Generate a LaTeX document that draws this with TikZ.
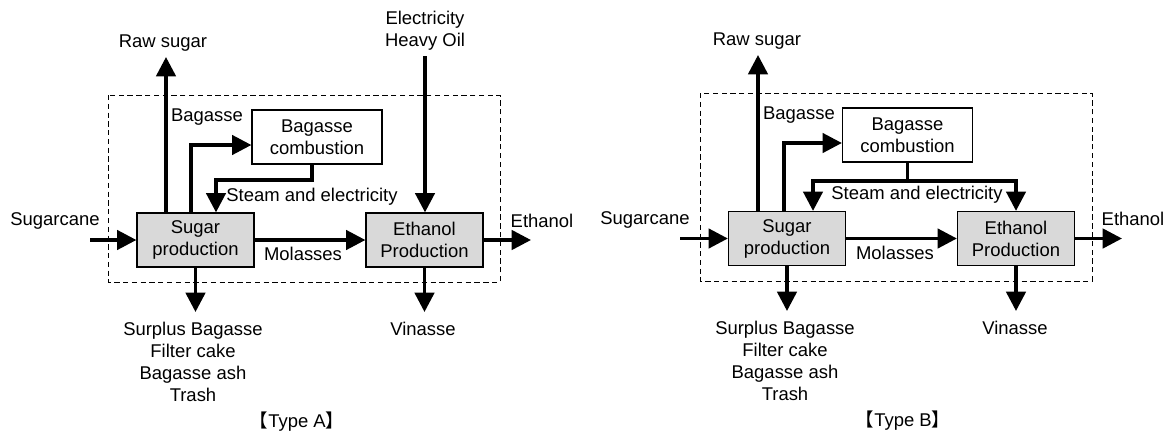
\documentclass[tikz,border=0pt]{standalone}
\usepackage{fontspec}
\setmainfont{Liberation Sans}
\newfontfamily\cjk{Noto Sans CJK JP}
\usetikzlibrary{arrows.meta,calc}

\tikzset{
  flow/.style={line width=2pt, -{Triangle[length=11pt,width=11pt]}},
  plainflow/.style={line width=2pt},
  procbox/.style={draw, line width=0.7pt, fill=black!15, minimum width=2.34cm,
    minimum height=1.08cm, align=center, inner sep=0pt},
  burnbox/.style={draw, line width=0.7pt, fill=white, minimum width=2.6cm,
    minimum height=1.08cm, align=center, inner sep=0pt},
  lbl/.style={inner sep=0pt, align=center},
  frame/.style={line width=0.5pt, dash pattern=on 3pt off 2pt}
}

\begin{document}
\begin{tikzpicture}[x=0.02cm, y=-0.02cm, font=\fontsize{10.5}{12.5}\selectfont]
  \useasboundingbox (0,0) rectangle (1173,436);

  % ---------- Type A ----------
  \draw[frame] (108,95) rectangle (500,282); % system boundary

  \node[procbox] (sugA) at (195.5,240) {Sugar\\production};
  \node[procbox] (ethA) at (424.5,240) {Ethanol\\Production};
  \node[burnbox] (burnA) at (317,137) {Bagasse\\combustion};

  \coordinate (rawA) at (166,57);
  \coordinate (elecA) at (425,56);
  \coordinate (caneA) at (90,240);
  \coordinate (ethoutA) at (531,240);
  \coordinate (resA) at (195.5,312);
  \coordinate (vinA) at (424.5,312);
  \coordinate (bagA) at (191,145);
  \coordinate (steamA) at (216,180);

  % flows
  \draw[flow] (sugA.north -| rawA) -- (rawA);
  \draw[flow] (sugA.north -| bagA) -- (bagA) -- (bagA -| burnA.west);
  \draw[flow] ($(burnA.south)+(-5,0)$) |- (steamA) -- (steamA |- sugA.north);
  \draw[flow] (elecA) -- (elecA |- ethA.north);
  \draw[flow] (caneA) -- (sugA.west);
  \draw[flow] (sugA.east) -- (ethA.west);
  \draw[flow] (ethA.east) -- (ethoutA);
  \draw[flow] (sugA.south) -- (resA);
  \draw[flow] (ethA.south) -- (vinA);

  % labels
  \node[lbl] (rawlA) at (163,43) {Raw sugar};
  \node[lbl] (eleclA) at (425,31) {Electricity\\Heavy Oil};
  \node[lbl] (baglA) at (207,117) {Bagasse};
  \node[lbl, anchor=west] (steamlA) at (226,197) {Steam and electricity};
  \node[lbl] (canelA) at (55,221) {Sugarcane};
  \node[lbl] (mollA) at (303,254) {Molasses};
  \node[lbl] (ethlA) at (542,221) {Ethanol};
  \node[lbl, anchor=north] (reslA) at (193,322)
    {Surplus Bagasse\\Filter cake\\Bagasse ash\\Trash};
  \node[lbl] (vinlA) at (423,329) {Vinasse};
  \node[lbl] (typeA) at (297,422) {{\cjk 【}Type A{\cjk 】}};

  % ---------- Type B ----------
  \draw[frame] (700,93) rectangle (1092,281); % system boundary

  \node[procbox] (sugB) at (787,238.5) {Sugar\\production};
  \node[procbox] (ethB) at (1016,238.5) {Ethanol\\Production};
  \node[burnbox] (burnB) at (907.5,135) {Bagasse\\combustion};

  \coordinate (rawB) at (758,55);
  \coordinate (caneB) at (680,238.5);
  \coordinate (ethoutB) at (1122,238.5);
  \coordinate (resB) at (787,311);
  \coordinate (vinB) at (1016,311);
  \coordinate (bagB) at (784,143);
  \coordinate (steamB) at (907.5,181);

  % flows
  \draw[flow] (sugB.north -| rawB) -- (rawB);
  \draw[flow] (sugB.north -| bagB) -- (bagB) -- (bagB -| burnB.west);
  \draw[plainflow] (burnB.south) -- (steamB);
  \draw[flow] (steamB) -| ($(sugB.north)+(26,0)$);
  \draw[flow] (steamB) -| (ethB.north);
  \draw[flow] (caneB) -- (sugB.west);
  \draw[flow] (sugB.east) -- (ethB.west);
  \draw[flow] (ethB.east) -- (ethoutB);
  \draw[flow] (sugB.south) -- (resB);
  \draw[flow] (ethB.south) -- (vinB);

  % labels
  \node[lbl] (rawlB) at (757,41) {Raw sugar};
  \node[lbl] (baglB) at (799,115) {Bagasse};
  \node[lbl] (steamlB) at (917,195) {Steam and electricity};
  \node[lbl] (canelB) at (645,220) {Sugarcane};
  \node[lbl] (mollB) at (895,253) {Molasses};
  \node[lbl] (ethlB) at (1133,219) {Ethanol};
  \node[lbl, anchor=north] (reslB) at (785,321)
    {Surplus Bagasse\\Filter cake\\Bagasse ash\\Trash};
  \node[lbl] (vinlB) at (1015,328) {Vinasse};
  \node[lbl] (typeB) at (903,421) {{\cjk 【}Type B{\cjk 】}};
\end{tikzpicture}
\end{document}
